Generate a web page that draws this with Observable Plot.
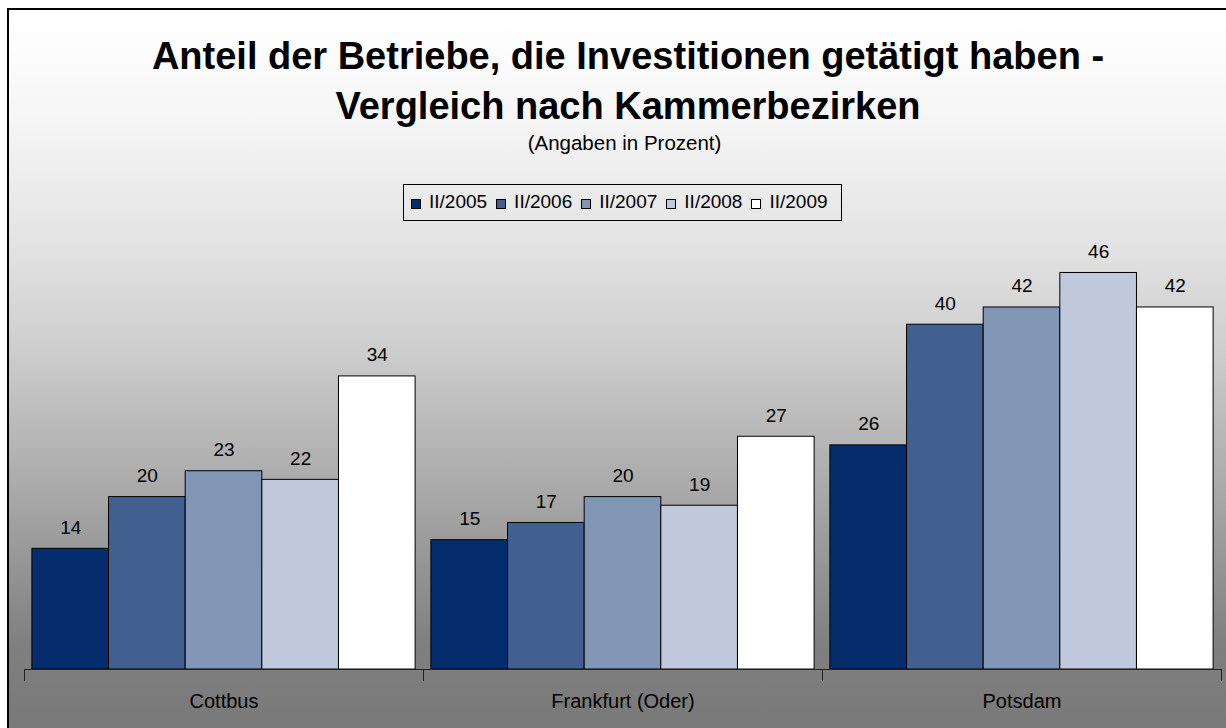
<!DOCTYPE html>
<html>
<head>
<meta charset="utf-8">
<script src="https://cdn.jsdelivr.net/npm/d3@7"></script>
<script src="https://cdn.jsdelivr.net/npm/@observablehq/plot@0.6"></script>
<style>
  html, body { margin: 0; padding: 0; width: 1226px; height: 728px; overflow: hidden; background: #fff; }
  body { font-family: "Liberation Sans", Arial, sans-serif; position: relative; }
  #bg { position: absolute; left: 7px; top: 8px; width: 1240px; height: 740px; box-sizing: border-box;
        border-left: 2px solid #000; border-top: 2px solid #000;
        background: linear-gradient(to bottom, #ffffff 0px, #fcfcfc 40px, #f4f4f4 120px, #e3e3e3 232px, #cfcfcf 332px, #a6a6a6 492px, #808080 632px, #777777 740px); }
  .title { position: absolute; left: 0; width: 1256px; text-align: center; font-weight: bold; font-size: 38px; line-height: 50px; top: 31px; color: #000; }
  .sub { position: absolute; left: 0; width: 1249px; text-align: center; font-size: 20.5px; line-height: 22px; top: 132px; color: #000; }
  #legend { position: absolute; left: 403px; top: 184px; width: 439px; height: 37px; box-sizing: border-box; border: 1px solid #000;
            display: flex; align-items: center; padding-left: 7px; padding-bottom: 2px; }
  .item { display: flex; align-items: center; margin-right: 9px; font-size: 19px; color: #000; }
  .sw { width: 10px; height: 10px; box-sizing: border-box; border: 1px solid #000; margin-right: 8px; position: relative; top: 2px; }
  #chart { position: absolute; left: 0; top: 0; }
</style>
</head>
<body>
<div id="bg"></div>
<div class="title">Anteil der Betriebe, die Investitionen getätigt haben -<br>Vergleich nach Kammerbezirken</div>
<div class="sub">(Angaben in Prozent)</div>
<div id="legend"></div>
<div id="chart"></div>
<script>
const categories = ["Cottbus", "Frankfurt (Oder)", "Potsdam"];
const series = ["II/2005", "II/2006", "II/2007", "II/2008", "II/2009"];
const v2005 = [14, 15, 26];
const v2006 = [20, 17, 40];
const v2007 = [23, 20, 42];
const v2008 = [22, 19, 46];
const v2009 = [34, 27, 42];
const colors = ["#052d6e", "#41608f", "#8195b5", "#c0c9db", "#ffffff"];

const valuesBySeries = [v2005, v2006, v2007, v2008, v2009];
const rows = [];
series.forEach((s, i) => {
  categories.forEach((c, j) => rows.push({cat: c, series: s, value: valuesBySeries[i][j]}));
});

// legend
const legend = document.getElementById("legend");
series.forEach((s, i) => {
  const it = document.createElement("div");
  it.className = "item";
  const sw = document.createElement("span");
  sw.className = "sw";
  sw.style.background = colors[i];
  const t = document.createElement("span");
  t.textContent = s;
  it.appendChild(sw); it.appendChild(t);
  legend.appendChild(it);
});

const chart = Plot.plot({
  width: 1226,
  height: 728,
  marginLeft: 23,
  marginRight: 3.5,
  marginTop: 238,
  marginBottom: 59,
  style: {background: "transparent", fontFamily: "Liberation Sans, Arial, sans-serif", fontSize: "20px", color: "#000", overflow: "visible"},
  fx: {domain: categories, padding: 0, axis: "bottom", tickSize: 0, tickPadding: 24, label: null},
  x: {domain: series, paddingInner: 0, paddingOuter: 0.103, axis: null, round: false},
  y: {domain: [0, 50], axis: null},
  color: {domain: series, range: colors},
  marks: [
    Plot.barY(rows, {fx: "cat", x: "series", y: "value", fill: "series", stroke: "#000", strokeWidth: 1}),
    Plot.text(rows, {fx: "cat", x: "series", y: "value", text: d => String(d.value), dy: -15, lineAnchor: "bottom", fontSize: 19, fill: "#000"}),
    Plot.ruleY([0], {stroke: "#222", strokeWidth: 1}),
    Plot.frame({anchor: "left", insetTop: 431, insetBottom: -11, stroke: "#222"}),
    Plot.frame({anchor: "right", insetTop: 431, insetBottom: -11, stroke: "#222"})
  ]
});
document.getElementById("chart").appendChild(chart);
</script>
</body>
</html>
